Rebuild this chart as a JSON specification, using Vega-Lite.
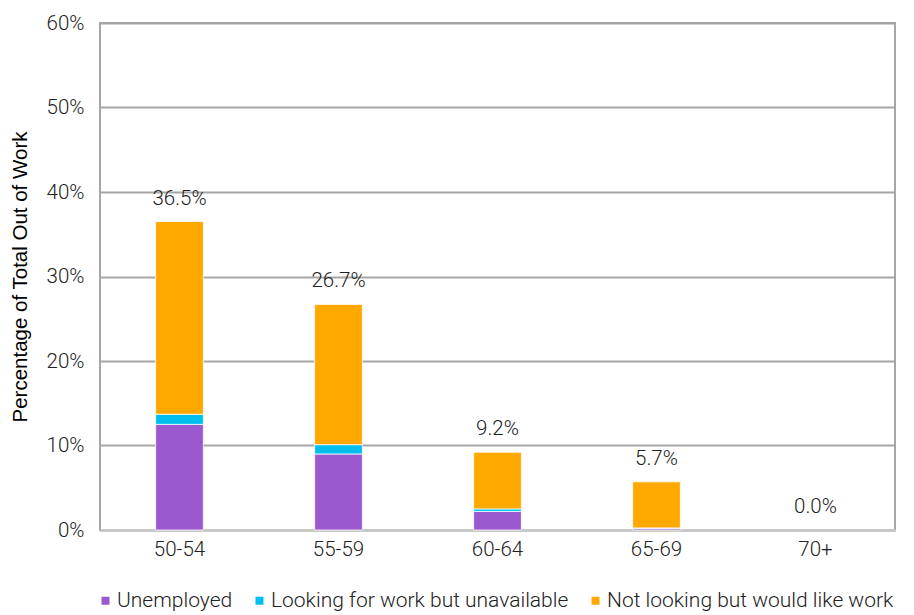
{
  "$schema": "https://vega.github.io/schema/vega-lite/v6.json",
  "autosize": "none",
  "width": 795,
  "height": 507,
  "padding": {"left": 100, "top": 23, "right": 19, "bottom": 85},
  "background": "white",
  "config": {
    "font": "Roboto",
    "view": {"stroke": "#a6a6a6", "strokeWidth": 2}
  },
  "data": {
    "values": [
      {"age": "50-54", "status": "Unemployed", "ord": 1, "value": 0.125},
      {"age": "50-54", "status": "Looking for work but unavailable", "ord": 2, "value": 0.012},
      {"age": "50-54", "status": "Not looking but would like work", "ord": 3, "value": 0.228},
      {"age": "55-59", "status": "Unemployed", "ord": 1, "value": 0.090},
      {"age": "55-59", "status": "Looking for work but unavailable", "ord": 2, "value": 0.011},
      {"age": "55-59", "status": "Not looking but would like work", "ord": 3, "value": 0.166},
      {"age": "60-64", "status": "Unemployed", "ord": 1, "value": 0.022},
      {"age": "60-64", "status": "Looking for work but unavailable", "ord": 2, "value": 0.003},
      {"age": "60-64", "status": "Not looking but would like work", "ord": 3, "value": 0.067},
      {"age": "65-69", "status": "Unemployed", "ord": 1, "value": 0.002},
      {"age": "65-69", "status": "Looking for work but unavailable", "ord": 2, "value": 0.0005},
      {"age": "65-69", "status": "Not looking but would like work", "ord": 3, "value": 0.0545},
      {"age": "70+", "status": "Unemployed", "ord": 1, "value": 0},
      {"age": "70+", "status": "Looking for work but unavailable", "ord": 2, "value": 0},
      {"age": "70+", "status": "Not looking but would like work", "ord": 3, "value": 0}
    ]
  },
  "encoding": {
    "x": {
      "field": "age", "type": "nominal", "sort": null,
      "scale": {"paddingInner": 0.7, "paddingOuter": 0.35},
      "axis": {"title": null, "labelAngle": 0, "labelFontSize": 20.5, "labelFontWeight": 300, "labelColor": "#222", "labelPadding": 9, "ticks": false, "domainColor": "#c8c8c8", "domainWidth": 3}
    }
  },
  "layer": [
    {
      "transform": [{"filter": "datum.value > 0"}],
      "mark": {"type": "bar", "stroke": "white", "strokeWidth": 0.8},
      "encoding": {
        "y": {
          "field": "value", "type": "quantitative", "aggregate": "sum", "stack": "zero",
          "scale": {"domain": [0, 0.6]},
          "axis": {"title": "Percentage of Total Out of Work", "titleFont": "Liberation Sans", "titleFontSize": 20.5, "titleFontWeight": "normal", "titleColor": "black", "titlePadding": 16, "format": ".0%", "tickCount": 7, "labelFontSize": 20.5, "labelFontWeight": 300, "labelColor": "#222", "labelPadding": 16, "ticks": false, "domain": false, "gridColor": "#a6a6a6", "gridWidth": 2}
        },
        "color": {
          "field": "status", "type": "nominal",
          "scale": {
            "domain": ["Unemployed", "Looking for work but unavailable", "Not looking but would like work"],
            "range": ["#9b59cf", "#00bfef", "#ffa800"]
          },
          "legend": {
            "title": null, "orient": "none", "legendX": -5, "legendY": 567, "direction": "horizontal",
            "symbolType": "square", "symbolSize": 64, "symbolStrokeWidth": 0, "labelFontSize": 21, "labelFontWeight": 300, "labelColor": "#222", "labelOffset": 1, "labelLimit": 0, "columnPadding": 16
          }
        },
        "order": {"field": "ord", "type": "quantitative"}
      }
    },
    {
      "mark": {"type": "text", "baseline": "bottom", "dy": -13, "fontSize": 20.5, "fontWeight": 300, "color": "#222"},
      "encoding": {
        "y": {"field": "value", "type": "quantitative", "aggregate": "sum"},
        "text": {"field": "value", "type": "quantitative", "aggregate": "sum", "format": ".1%"}
      }
    }
  ]
}
